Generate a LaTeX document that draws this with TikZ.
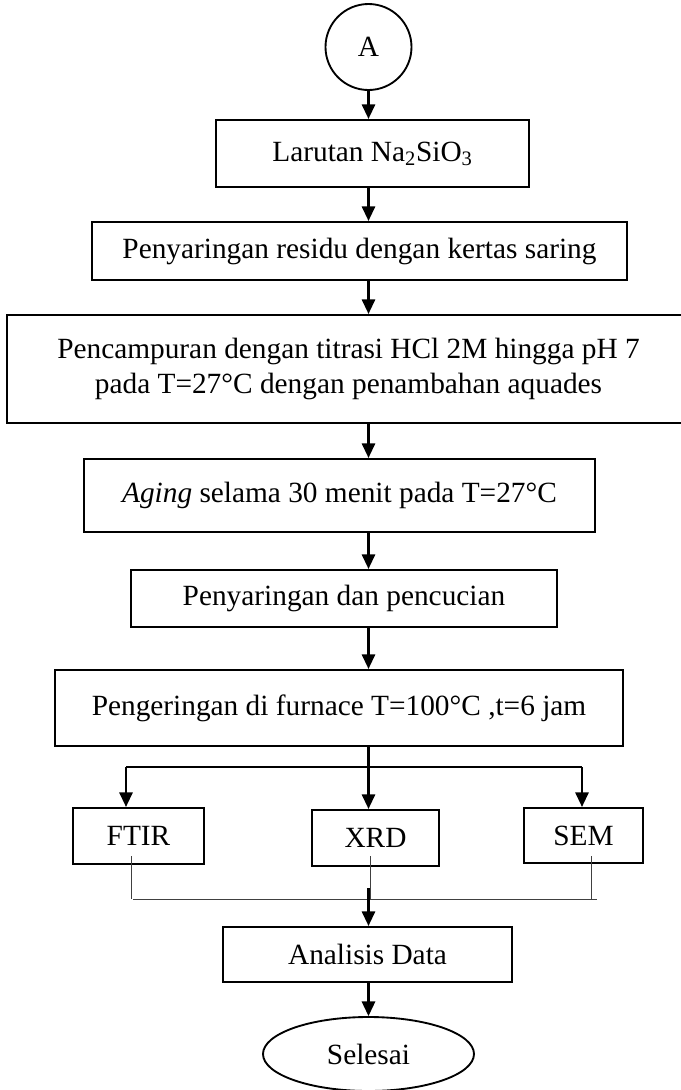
\documentclass[tikz,border=0pt]{standalone}
\usepackage{fontspec}
\setmainfont{Liberation Serif}
\usetikzlibrary{arrows.meta,shapes.geometric}
\begin{document}
\begin{tikzpicture}[x=0.75pt,y=-0.75pt,
  txt/.style={font=\fontsize{22}{26}\selectfont},
  box/.style={txt,draw,rectangle,line width=1.6pt,inner sep=0pt,align=center},
  arr/.style={line width=1.6pt,-{Triangle[width=10pt,length=11pt]}},
  branch/.style={line width=1.1pt},
  thinln/.style={line width=0.7pt,black!75}]
\useasboundingbox (0,0) rectangle (681,1090);
% nodes
\node[txt,circle,draw,line width=1.4pt,minimum size=64.5pt,inner sep=0pt] (A) at (368.5,47) {A};
\node[box,minimum width=234.75pt,minimum height=50.25pt] (b1) at (372.5,153.5) {Larutan Na\textsubscript{2}SiO\textsubscript{3}};
\node[box,minimum width=401.25pt,minimum height=43.5pt] (b2) at (359.5,251) {Penyaringan residu dengan kertas saring};
\node[box,minimum width=512.25pt,minimum height=81pt] (b3) at (348.5,369) {Pencampuran dengan titrasi HCl 2M hingga pH 7\\pada T=27°C dengan penambahan aquades};
\node[box,minimum width=383.25pt,minimum height=54.75pt] (b4) at (339.5,495.5) {\textit{Aging} selama 30 menit pada T=27°C};
\node[box,minimum width=319.5pt,minimum height=42.75pt] (b5) at (344,598.5) {Penyaringan dan pencucian};
\node[box,minimum width=426pt,minimum height=57pt] (b6) at (339,708) {Pengeringan di furnace T=100°C ,t=6 jam};
\node[box,minimum width=98.25pt,minimum height=42pt] (ftir) at (138.5,836) {FTIR};
\node[box,minimum width=95.25pt,minimum height=42pt] (xrd) at (375.5,838) {XRD};
\node[box,minimum width=89.25pt,minimum height=41.25pt] (sem) at (583.5,835.5) {SEM};
\node[box,minimum width=216.75pt,minimum height=41.25pt] (ana) at (367.5,954.5) {Analisis Data};
\node[txt,ellipse,draw,line width=1.4pt,minimum width=158.25pt,minimum height=55.5pt,inner sep=0pt] (end) at (368.5,1054) {Selesai};
% main chain
\draw[arr] (A.south) -- (A.south |- b1.north);
\draw[arr] (A.south |- b1.south) -- (A.south |- b2.north);
\draw[arr] (A.south |- b2.south) -- (A.south |- b3.north);
\draw[arr] (A.south |- b3.south) -- (A.south |- b4.north);
\draw[arr] (A.south |- b4.south) -- (A.south |- b5.north);
\draw[arr] (A.south |- b5.south) -- (A.south |- b6.north);
\draw[arr] (A.south |- b6.south) -- (A.south |- xrd.north);
% branches
\coordinate (bl) at (126,767);
\coordinate (br) at (582,767);
\draw[branch] (bl) -- (br);
\draw[arr] (bl) -- (bl |- ftir.north);
\draw[arr] (br) -- (br |- sem.north);
% join lines
\coordinate (fl) at (131,856);
\coordinate (xl) at (370,856);
\coordinate (sl) at (591,856);
\coordinate (jl) at (133,899);
\coordinate (jr) at (597,899);
\draw[thinln] (fl) -- (fl |- jl);
\draw[thinln] (sl) -- (sl |- jr);
\draw[thinln] (xl) -- (xl |- jl);
\draw[thinln] (jl) -- (jr);
\coordinate (xj) at (368.5,888);
\draw[arr] (xj) -- (xj |- ana.north);
\draw[arr] (A.south |- ana.south) -- (A.south |- end.north);
\end{tikzpicture}
\end{document}
